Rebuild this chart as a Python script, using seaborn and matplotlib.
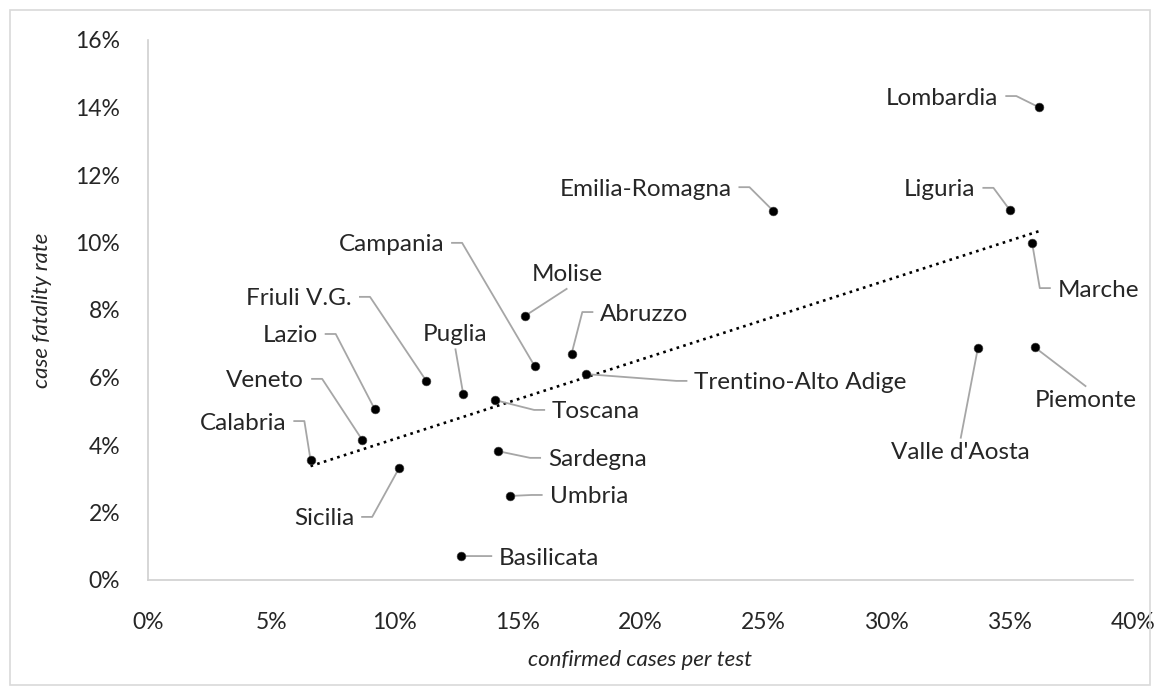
import numpy as np
import pandas as pd
import seaborn as sns
import matplotlib.pyplot as plt
from matplotlib.patches import Rectangle
from matplotlib.ticker import PercentFormatter

# data (fractions)
regions = ["Lombardia", "Liguria", "Emilia-Romagna", "Marche", "Piemonte",
           "Valle d'Aosta", "Trentino-Alto Adige", "Toscana", "Sardegna",
           "Umbria", "Basilicata", "Sicilia", "Calabria", "Veneto", "Lazio",
           "Friuli V.G.", "Puglia", "Campania", "Molise", "Abruzzo"]
cases_per_test = [0.362, 0.350, 0.254, 0.359, 0.360,
                  0.337, 0.178, 0.141, 0.142,
                  0.147, 0.127, 0.102, 0.066, 0.087, 0.092,
                  0.113, 0.128, 0.157, 0.153, 0.172]
fatality_rate = [0.140, 0.1096, 0.1093, 0.100, 0.069,
                 0.0687, 0.061, 0.0533, 0.0382,
                 0.0249, 0.0071, 0.0332, 0.0356, 0.0415, 0.0507,
                 0.059, 0.0551, 0.0634, 0.0782, 0.067]

# label centres (layout) and which side the leader line leaves from
label_x = [0.3225, 0.3215, 0.202, 0.386, 0.381,
           0.330, 0.265, 0.182, 0.1825,
           0.179, 0.163, 0.0715, 0.0386, 0.0476, 0.0577,
           0.0614, 0.1248, 0.0988, 0.1703, 0.2016]
label_y = [0.1428, 0.1156, 0.1158, 0.0859, 0.0533,
           0.0379, 0.0584, 0.0498, 0.0356,
           0.0246, 0.0065, 0.0181, 0.0465, 0.059, 0.0723,
           0.0833, 0.0726, 0.0993, 0.0904, 0.0788]
leader_side = ["right", "right", "right", "left", "top",
               "top", "left", "left", "left",
               "left", "left", "right", "right", "right", "right",
               "right", "bottom", "right", "bottom", "left"]

df = pd.DataFrame({"region": regions, "x": cases_per_test, "y": fatality_rate})

sns.set_style("white")
plt.rcParams["font.family"] = ["Lato", "DejaVu Sans"]

TXT = "#262626"
GREY = "#a6a6a6"

fig = plt.figure(figsize=(11.61, 6.95), dpi=100)
ax = fig.add_axes([148 / 1161, 115 / 695, 985 / 1161, 540 / 695])

# trendline (linear fit over the data range)
slope, icpt = np.polyfit(df["x"], df["y"], 1)
xs = np.array([df["x"].min(), df["x"].max()])
ax.plot(xs, slope * xs + icpt, color="black", lw=1.9, ls=":", zorder=2)

sns.scatterplot(data=df, x="x", y="y", color="black", s=40, edgecolor="#444444",
                linewidth=0.4, ax=ax, zorder=4, legend=False)

ax.set_xlim(0, 0.40)
ax.set_ylim(0, 0.16)
ax.set_xticks(np.arange(0, 0.41, 0.05))
ax.set_yticks(np.arange(0, 0.161, 0.02))
ax.xaxis.set_major_formatter(PercentFormatter(1.0, decimals=0))
ax.yaxis.set_major_formatter(PercentFormatter(1.0, decimals=0))
ax.tick_params(axis="both", length=0, labelsize=16.5, colors=TXT)
ax.tick_params(axis="x", pad=23)
ax.tick_params(axis="y", pad=20)

for s in ["top", "right"]:
    ax.spines[s].set_visible(False)
for s in ["left", "bottom"]:
    ax.spines[s].set_color("#d0d0d0")
    ax.spines[s].set_linewidth(1.2)

ax.set_xlabel("")
ax.set_ylabel("")
fig.text(640 / 1161, 1 - 660 / 695, "confirmed cases per test", style="italic",
         fontsize=16, color=TXT, ha="center", va="center")
fig.text(42 / 1161, 1 - 310 / 695, "case fatality rate", style="italic",
         fontsize=16, color=TXT, ha="center", va="center", rotation=90)

texts = []
for name, lx, ly in zip(regions, label_x, label_y):
    texts.append(ax.text(lx, ly, name, fontsize=17.5, color=TXT,
                         ha="center", va="center", zorder=5))

fig.canvas.draw()
rend = fig.canvas.get_renderer()
inv = ax.transData.inverted()
for t, px, py, side in zip(texts, df["x"], df["y"], leader_side):
    bb = t.get_window_extent(rend)
    ym = (bb.y0 + bb.y1) / 2 + 2
    if side == "right":
        pts = [(bb.x1 + 7, ym), (bb.x1 + 18, ym)]
    elif side == "left":
        pts = [(bb.x0 - 7, ym), (bb.x0 - 18, ym)]
    elif side == "top":
        pts = [((bb.x0 + bb.x1) / 2, bb.y1 + 3)]
    else:
        pts = [((bb.x0 + bb.x1) / 2, bb.y0 - 3)]
    dpts = inv.transform(pts)
    lx = list(dpts[:, 0]) + [px]
    ly = list(dpts[:, 1]) + [py]
    ax.plot(lx, ly, color=GREY, lw=1.3, zorder=3, solid_capstyle="butt")

fig.patches.append(Rectangle((10 / 1161, 10 / 695), 1140 / 1161, 675 / 695,
                             transform=fig.transFigure, fill=False,
                             edgecolor="#d9d9d9", lw=1.2))

fig.savefig("out.png", dpi=100)
